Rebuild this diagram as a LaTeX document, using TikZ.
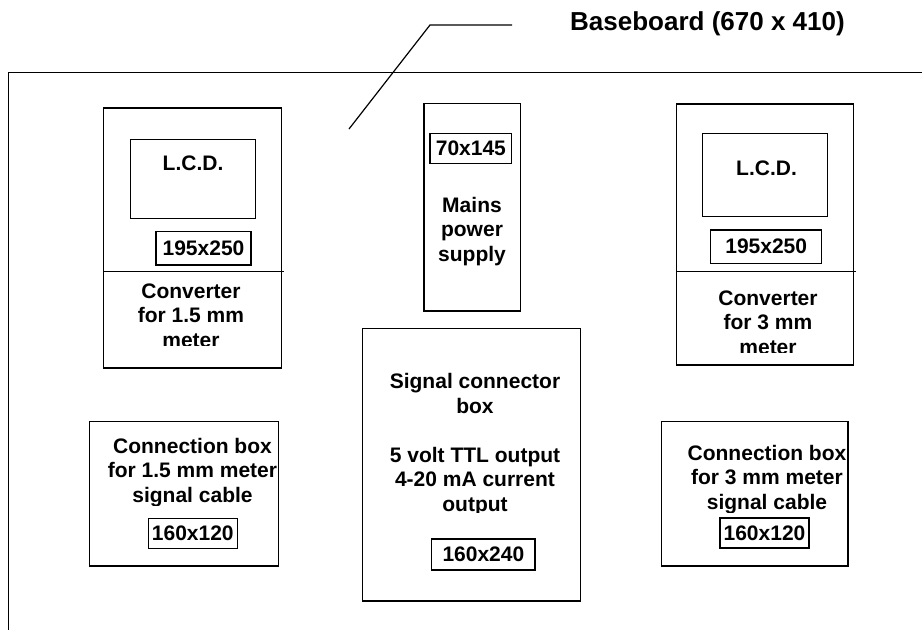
\documentclass[tikz,border=0pt]{standalone}
\usepackage{fontspec}
\setmainfont{Liberation Sans}
\usetikzlibrary{positioning}
\tikzset{
  unit/.style={draw, line width=1.4pt, inner sep=0pt},
  tag/.style={draw, line width=1.3pt, inner sep=0pt, font=\bfseries\fontsize{21}{24.5}\selectfont},
  caption/.style={align=center, inner sep=0pt, font=\bfseries\fontsize{21}{24.5}\selectfont},
  board/.style={line width=1.8pt},
  leader/.style={line width=1.2pt}
}

\begin{document}
\begin{tikzpicture}[x=1pt, y=-1pt]
  \useasboundingbox (0,0) rectangle (922,630);

  \draw[board] (922,72.5) -- (8.5,72.5) -- (8.5,630);
  \node[caption, font=\bfseries\fontsize{26}{30}\selectfont, anchor=base] (boardlbl) at (707.5,30) {Baseboard (670 x 410)};
  \coordinate (leadend) at (349,129);
  \coordinate (leadknee) at (430,25);
  \coordinate (leadtail) at (512,25);
  \draw[leader] (leadend) -- (leadknee) -- (leadtail);

  \node[unit, minimum width=178.2pt, minimum height=260pt] (convA) at (192.4,238) {};
  \node[unit, minimum width=125pt, minimum height=79pt] (lcdA) at (193.2,178.8) {};
  \node[caption] (lcdAlbl) at (193,163.5) {L.C.D.};
  \node[tag, minimum width=95pt, minimum height=33.3pt] (sizeA) at (203.5,248.3) {195x250};
  \draw[line width=1.4pt] (103.3,271.7) -- (283.5,271.7);
  \begin{scope}
    \clip (103.3,272) rectangle (281.5,345);
    \node[caption, anchor=base] (convAtxt) at (191,347) {Converter\\for 1.5 mm\\meter};
  \end{scope}

  \node[unit, minimum width=96.7pt, minimum height=207.7pt] (mains) at (472.4,207.2) {};
  \node[tag, minimum width=81.7pt, minimum height=30pt] (sizeM) at (470.9,148.3) {70x145};
  \node[caption, anchor=base] (mainstxt) at (472,261) {Mains\\power\\supply};

  \node[unit, minimum width=176.6pt, minimum height=261pt] (convB) at (765,234.5) {};
  \node[unit, minimum width=125pt, minimum height=83.4pt] (lcdB) at (765.2,175) {};
  \node[caption] (lcdBlbl) at (766.5,168.5) {L.C.D.};
  \node[tag, minimum width=111pt, minimum height=33.3pt] (sizeB) at (766.2,246.7) {195x250};
  \draw[line width=1.4pt] (676.7,271.7) -- (856,271.7);
  \begin{scope}
    \clip (676.7,272) rectangle (853.3,352);
    \node[caption, anchor=base] (convBtxt) at (768,354) {Converter\\for 3 mm\\meter};
  \end{scope}

  \node[unit, minimum width=218pt, minimum height=272.7pt] (signal) at (471.7,464.7) {};
  \begin{scope}
    \clip (362.7,329) rectangle (580.7,512);
    \node[caption, anchor=base] (signaltxt) at (475,511) {Signal connector\\box\\[24.5pt]5 volt TTL output\\4-20 mA current\\output};
  \end{scope}
  \node[tag, minimum width=103.3pt, minimum height=31pt] (sizeS) at (483.4,554.5) {160x240};

  \node[unit, minimum width=189.2pt, minimum height=144.3pt] (connA) at (183.9,493.9) {};
  \begin{scope}
    \clip (89.3,422) rectangle (278.5,505);
    \node[caption, anchor=base] (connAtxt) at (192.5,502) {Connection box\\for 1.5 mm meter\\signal cable};
  \end{scope}
  \node[tag, minimum width=89pt, minimum height=30pt] (sizeCA) at (192.8,533.3) {160x120};

  \node[unit, minimum width=186.3pt, minimum height=144.3pt] (connB) at (754.9,493.9) {};
  \begin{scope}
    \clip (661.7,422) rectangle (848,512);
    \node[caption, anchor=base] (connBtxt) at (767,509) {Connection box\\for 3 mm meter\\signal cable};
  \end{scope}
  \node[tag, minimum width=89pt, minimum height=30pt] (sizeCB) at (764.5,533) {160x120};
\end{tikzpicture}
\end{document}
